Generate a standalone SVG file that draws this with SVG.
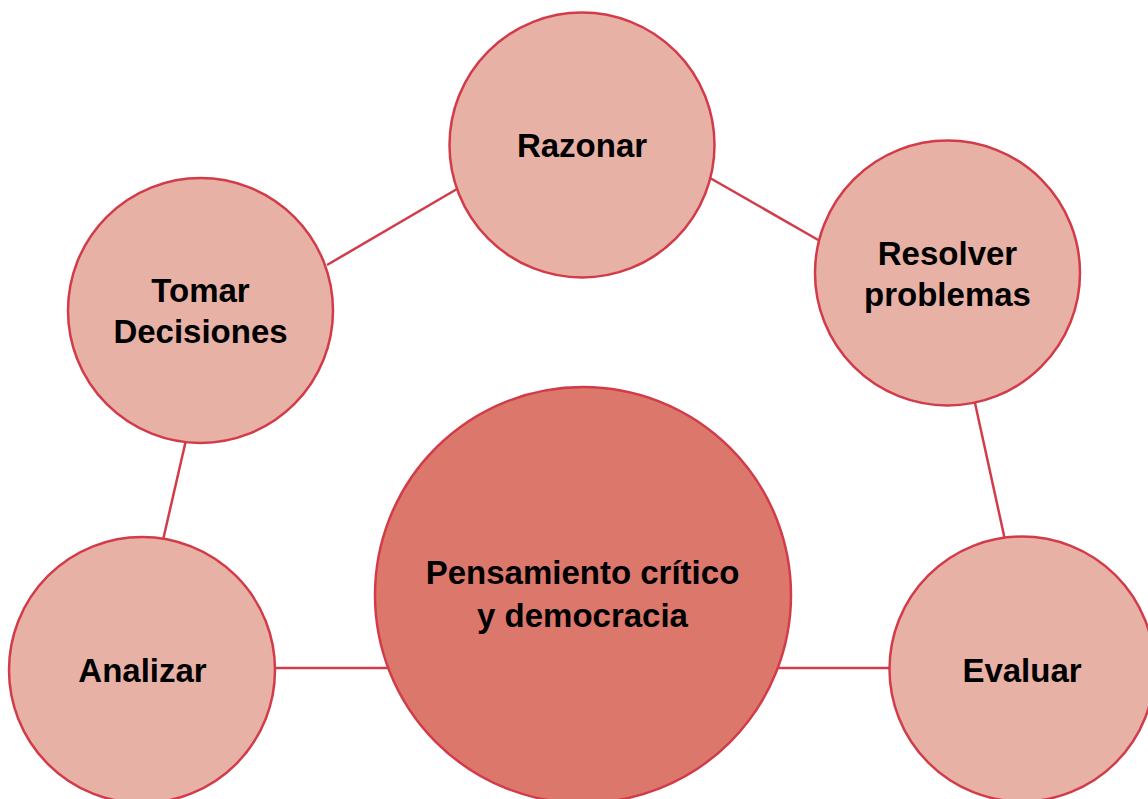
<svg xmlns="http://www.w3.org/2000/svg" width="1148" height="799" viewBox="0 0 1148 799">
<style>
.c{fill:#E8B1A5;stroke:#D23C4A;stroke-width:2.5}
.m{fill:#DC786B;stroke:#D23C4A;stroke-width:2.5}
.l{stroke:#D23C4A;stroke-width:2.5;fill:none}
text{font-family:"Liberation Sans",Arial,Helvetica,sans-serif;font-weight:bold;font-size:33px;fill:#000;text-anchor:middle}
</style>
<rect width="1148" height="799" fill="#ffffff"/>
<g id="connectors">
<line class="l" x1="327" y1="265" x2="457" y2="189"/>
<line class="l" x1="710" y1="178" x2="820" y2="241"/>
<line class="l" x1="186" y1="440" x2="163" y2="540"/>
<line class="l" x1="975" y1="403" x2="1005" y2="540"/>
<line class="l" x1="272" y1="668" x2="390" y2="668"/>
<line class="l" x1="775" y1="668" x2="893" y2="668"/>
</g>
<g id="razonar">
<circle class="c" cx="582" cy="145" r="132.5"/>
<text x="582" y="157">Razonar</text>
</g>
<g id="tomar">
<circle class="c" cx="200.5" cy="310.5" r="132.5"/>
<text x="200.5" y="302">Tomar</text>
<text x="200.5" y="343">Decisiones</text>
</g>
<g id="resolver">
<circle class="c" cx="947.5" cy="273" r="132.5"/>
<text x="947.5" y="265">Resolver</text>
<text x="947.5" y="306">problemas</text>
</g>
<g id="analizar">
<circle class="c" cx="142" cy="670" r="133"/>
<text x="142.5" y="682">Analizar</text>
</g>
<g id="evaluar">
<circle class="c" cx="1022" cy="669" r="132.5"/>
<text x="1022" y="682">Evaluar</text>
</g>
<g id="centro">
<circle class="m" cx="583" cy="595" r="208"/>
<text x="582.5" y="584">Pensamiento crítico</text>
<text x="582.5" y="627">y democracia</text>
</g>
</svg>
